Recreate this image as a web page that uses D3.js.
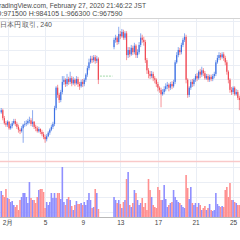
<!doctype html>
<html>
<head>
  <meta charset="utf-8">
  <script src="https://d3js.org/d3.v7.min.js"></script>
  <style>
    body { margin: 0; background: #fff; }
    text { font-family: "Liberation Sans", Arial, sans-serif; }
  </style>
</head>
<body>
<script>

// 4h candles, BTC/JPY in thousand yen, Jan 31 08:00 .. Feb 25 20:00 (null = no data)
var openK = [1034,1037,1026,1019,1017,1021,1012,1015,1019,1022,
  1018,1014,1010,1008,1012,1017,1018,1019,1022,1023,
  1018,1021,1014,1012,1008,1011,1007,1004,1000,997,
  1001,1006,1010,1014,1018,1040,1068,1058,1051,1062,
  1076,1079,1073,1080,1076,1081,1074,1079,1074,1080,
  1073,1070,1076,1073,1079,1086,1095,1103,1108,1106,
  1110,1105,1108,
  null,null,null,null,null,null,null,null,null,
  1124,1134,1137,1131,1142,1139,1145,1137,
  1143,1113,1120,1114,1123,1117,1126,1113,1117,1127,
  1137,1134,1131,1106,1092,1087,1084,1087,1081,1079,
  1073,1068,1065,1059,1062,1066,1070,1072,1068,1073,
  1070,1076,1103,1113,1120,1117,1127,1134,1138,1079,
  1058,1068,1076,1073,1079,1084,1081,1090,1086,1092,
  1088,1081,1084,1079,1083,1080,1084,1087,1103,1109,
  1113,1110,1114,1109,1103,1090,1079,1065,1062,1068,
  1059,1062,1054,1051];

var highK = [1040,1039,1029,1022,1023,1022,1018,1022,1025,1025,
  1021,1017,1012,1015,1018,1022,1023,1025,1028,1026,
  1037,1022,1017,1015,1014,1012,1010,1007,1003,1004,
  1008,1012,1017,1021,1043,1070,1072,1061,1065,1084,
  1084,1081,1087,1083,1090,1084,1083,1081,1084,1083,
  1076,1079,1080,1081,1088,1098,1108,1112,1112,1113,
  1113,1112,1110,
  null,null,null,null,null,null,null,null,null,
  1137,1141,1139,1152,1146,1149,1148,1146,
  1146,1124,1124,1127,1126,1130,1128,1121,1131,1143,
  1141,1138,1134,1109,1095,1091,1091,1090,1084,1081,
  1076,1070,1068,1066,1070,1074,1076,1074,1076,1077,
  1079,1106,1117,1124,1123,1130,1137,1143,1141,1081,
  1070,1079,1080,1081,1087,1088,1092,1094,1097,1095,
  1091,1087,1087,1086,1086,1087,1090,1106,1113,1117,
  1116,1117,1117,1112,1106,1092,1081,1069,1070,1070,
  1066,1065,1057,1054];

var lowK = [1032,1023,1017,1014,1014,1010,1010,1012,1017,1015,
  1011,1006,1004,1006,992,1014,1015,1017,1019,1015,
  1014,1011,1008,1006,1006,1004,1001,997,992,994,
  1000,1003,1008,1011,1015,1037,1054,1047,1048,1059,
  1072,1069,1070,1072,1073,1070,1072,1070,1072,1069,
  1065,1068,1069,1070,1076,1083,1092,1101,1102,1103,
  1101,1102,1073,
  null,null,null,null,null,null,null,null,null,
  1121,1130,1127,1128,1135,1137,1134,1134,
  1106,1109,1110,1112,1113,1114,1109,1109,1114,1124,
  1130,1126,1102,1087,1081,1080,1081,1077,1074,1069,
  1063,1061,1041,1057,1059,1063,1066,1063,1065,1066,
  1068,1073,1101,1110,1113,1114,1124,1131,1074,1054,
  1055,1065,1069,1070,1076,1077,1079,1081,1083,1084,
  1079,1079,1076,1076,1077,1077,1081,1084,1101,1106,
  1106,1108,1105,1099,1086,1074,1061,1058,1059,1057,
  1057,1051,1037,1040];

var closeK = [1037,1026,1019,1017,1021,1012,1015,1019,1022,1018,
  1014,1010,1008,1012,1017,1018,1019,1022,1023,1018,
  1021,1014,1012,1008,1011,1007,1004,1000,997,1001,
  1006,1010,1014,1018,1040,1068,1058,1051,1062,1076,
  1079,1073,1080,1076,1081,1074,1079,1074,1080,1073,
  1070,1076,1073,1079,1086,1095,1103,1108,1106,1110,
  1105,1108,1079,
  null,null,null,null,null,null,null,null,null,
  1134,1137,1131,1142,1139,1145,1137,1143,
  1113,1120,1114,1123,1117,1126,1113,1117,1127,1137,
  1134,1131,1106,1092,1087,1084,1087,1081,1079,1073,
  1068,1065,1059,1062,1066,1070,1072,1068,1073,1070,
  1076,1103,1113,1120,1117,1127,1134,1138,1079,1058,
  1068,1076,1073,1079,1084,1081,1090,1086,1092,1088,
  1081,1084,1079,1083,1080,1084,1087,1103,1109,1113,
  1110,1114,1109,1103,1090,1079,1065,1062,1068,1059,
  1062,1054,1051,1044];

var volume = [2600,2200,2000,2800,1900,1800,1500,1600,1200,1000,
  1200,700,1700,2000,2400,2400,2000,1400,3500,1900,
  1700,1700,1400,2000,2700,2800,2800,2500,900,1500,
  1200,1500,2400,1900,2400,1900,2400,2400,1800,5000,
  1500,1200,1800,2000,1700,1100,700,1200,1600,1300,
  1300,1400,1200,1500,1200,1700,2400,1700,900,1000,
  2800,2400,800,
  null,null,null,null,null,null,null,null,null,
  2000,1700,1400,1700,1300,900,1500,1700,
  3800,4500,1200,1000,1400,2700,2400,1700,1200,1400,
  1900,1000,1400,700,3800,2700,2000,1200,1000,900,
  3000,2700,1700,1700,3200,1800,1000,1200,1400,1500,
  2700,2000,1700,1500,1400,1200,1000,900,4200,2900,
  1800,3000,1400,1200,1400,1000,1400,1200,700,900,
  1100,700,900,1300,700,600,700,2400,1300,1100,
  1000,1100,1000,2700,3000,2000,3400,1700,1700,1500,
  1400,1200,1200,1000];

var tickDays = [1, 5, 9, 13, 17, 21, 25];
var tickLabels = ["2月", "5", "9", "13", "17", "21", "25"];
var priceGrid = [980, 1000, 1020, 1040, 1060, 1080, 1100, 1120, 1140, 1160];
var volGrid = [500, 2000, 3500, 5000];
var gapPrice = 1084;

var times = d3.timeHour.every(4).range(new Date(2020, 0, 31, 8), new Date(2020, 1, 25, 21));

var upColor = "#3f72e4", downColor = "#f04a54";
var volUp = "#8f8fff", volDown = "#ff9090";
var gridColor = "#eaeef5";

var svg = d3.select("body").append("svg")
    .attr("width", 240)
    .attr("height", 240);

svg.append("rect").attr("width", 240).attr("height", 240).attr("fill", "#fff");

// scales
var x = d3.scaleTime()
    .domain([new Date(2020, 1, 1), new Date(2020, 1, 25)])
    .range([7.5, 233.1]);

var y = d3.scaleLinear()
    .domain([1000, 1100])
    .range([137, 64.5]);

var yv = d3.scaleLinear()
    .domain([0, 5000])
    .range([217, 167]);

var tickDates = tickDays.map(function (d) { return new Date(2020, 1, d); });

// grid
var grid = svg.append("g");
grid.selectAll(".hp").data(priceGrid.filter(function (p) { return y(p) > 19 && y(p) < 160; }))
  .enter().append("line")
    .attr("x1", 0).attr("x2", 240)
    .attr("y1", function (d) { return Math.round(y(d)) + 0.5; })
    .attr("y2", function (d) { return Math.round(y(d)) + 0.5; })
    .attr("stroke", gridColor);
grid.selectAll(".hv").data(volGrid)
  .enter().append("line")
    .attr("x1", 0).attr("x2", 240)
    .attr("y1", function (d) { return Math.round(yv(d)) + 0.5; })
    .attr("y2", function (d) { return Math.round(yv(d)) + 0.5; })
    .attr("stroke", gridColor);
grid.selectAll(".vx").data(tickDates)
  .enter().append("line")
    .attr("x1", function (d) { return Math.round(x(d)) + 0.5; })
    .attr("x2", function (d) { return Math.round(x(d)) + 0.5; })
    .attr("y1", 19).attr("y2", 217)
    .attr("stroke", gridColor);

// header separator and pane separator
svg.append("line").attr("x1", 0).attr("x2", 240).attr("y1", 18.5).attr("y2", 18.5)
    .attr("stroke", "#d4d4d4");
svg.append("line").attr("x1", 0).attr("x2", 240).attr("y1", 161.5).attr("y2", 161.5)
    .attr("stroke", "#f9c9c9").attr("stroke-width", 1.5);

var bars = times.map(function (t, i) {
  return { t: t, o: openK[i], h: highK[i], l: lowK[i], c: closeK[i], v: volume[i] };
}).filter(function (d) { return d.o != null; });

function col(d) { return d.c >= d.o ? upColor : downColor; }

// volume
svg.append("g").selectAll("rect").data(bars)
  .enter().append("rect")
    .attr("x", function (d) { return x(d.t) - 0.8; })
    .attr("width", 1.6)
    .attr("y", function (d) { return yv(d.v); })
    .attr("height", function (d) { return yv(0) - yv(d.v); })
    .attr("fill", function (d) { return d.c >= d.o ? volUp : volDown; });

// gap line
svg.append("line")
    .attr("x1", x(times[63])).attr("x2", x(times[71]))
    .attr("y1", y(gapPrice)).attr("y2", y(gapPrice))
    .attr("stroke", "#9fd8a8").attr("stroke-dasharray", "2,1");

// candles
var candles = svg.append("g").selectAll("g").data(bars).enter().append("g");
candles.append("line")
    .attr("x1", function (d) { return x(d.t); })
    .attr("x2", function (d) { return x(d.t); })
    .attr("y1", function (d) { return y(d.h); })
    .attr("y2", function (d) { return y(d.l); })
    .attr("stroke", col)
    .attr("stroke-width", 0.6);
candles.append("rect")
    .attr("x", function (d) { return x(d.t) - 0.6; })
    .attr("width", 1.2)
    .attr("y", function (d) { return y(Math.max(d.o, d.c)); })
    .attr("height", function (d) { return Math.max(0.6, Math.abs(y(d.o) - y(d.c))); })
    .attr("fill", col);

// time axis
svg.append("line").attr("x1", 0).attr("x2", 240).attr("y1", 217.5).attr("y2", 217.5)
    .attr("stroke", "#b8b8b8");
var axis = svg.append("g")
    .attr("transform", "translate(0,217)")
    .call(d3.axisBottom(x).tickValues(tickDates)
      .tickFormat(function (d, i) { return tickLabels[i]; })
      .tickSize(0).tickPadding(3));
axis.select(".domain").remove();
axis.selectAll("text")
    .attr("font-size", 6.5)
    .attr("font-family", "'Liberation Sans', Arial, sans-serif")
    .attr("fill", "#444");

// header texts (the chart is cropped on the left, as in the snapshot)
svg.append("text").attr("x", 146).attr("y", 8).attr("text-anchor", "end")
    .attr("font-size", 6.7).attr("fill", "#4a4a4a")
    .text("TradingView.com, February 27, 2020 21:46:22 JST");
svg.append("text").attr("x", 122.5).attr("y", 15.5).attr("text-anchor", "end")
    .attr("font-size", 7).attr("fill", "#4a4a4a")
    .text("O:971500 H:984105 L:966300 C:967590");
svg.append("text").attr("x", -0.5).attr("y", 27)
    .attr("font-size", 7).attr("fill", "#555")
    .attr("font-family", "'Noto Sans CJK JP', sans-serif")
    .text("日本円 取引, 240");

</script>
</body>
</html>
